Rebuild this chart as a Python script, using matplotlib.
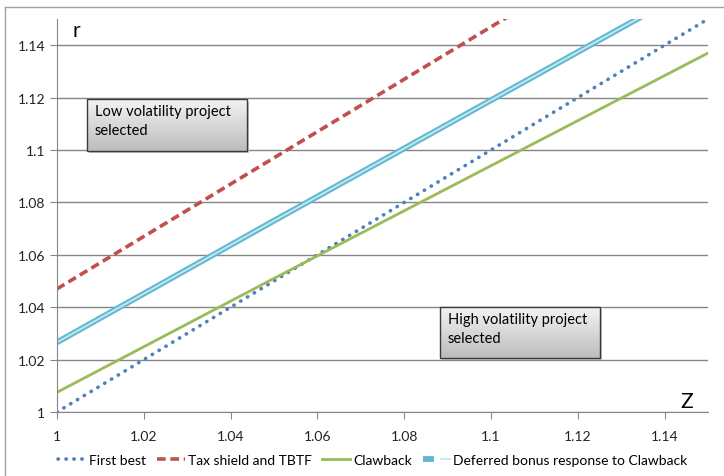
import matplotlib
matplotlib.use("Agg")
import numpy as np
import matplotlib.pyplot as plt
from matplotlib.lines import Line2D
from matplotlib.patches import Rectangle
from matplotlib.legend_handler import HandlerTuple

# values
z_values = [1.00, 1.05, 1.10, 1.15]
first_best = [1.00, 1.05, 1.10, 1.15]
tax_shield = [1.047, 1.097, 1.147, 1.197]
clawback = [1.0075, 1.051, 1.094, 1.137]
deferred = [1.0266, 1.073, 1.119, 1.165]

ticks = [1, 1.02, 1.04, 1.06, 1.08, 1.1, 1.12, 1.14]
tick_labels = ["1", "1.02", "1.04", "1.06", "1.08", "1.1", "1.12", "1.14"]

plt.rcParams['font.family'] = ['Lato', 'DejaVu Sans']

fig = plt.figure(figsize=(7.24, 4.77), dpi=100)
ax = fig.add_axes([57 / 724, 64 / 477, (708 - 57) / 724, (413 - 20) / 477])

grey = '#868686'
ax.set_xlim(1, 1.15)
ax.set_ylim(1, 1.15)
ax.set_xticks(ticks)
ax.set_xticklabels(tick_labels)
ax.set_yticks(ticks)
ax.set_yticklabels(tick_labels)
ax.yaxis.grid(True, color=grey, lw=1)
ax.set_axisbelow(True)
for s in ['top', 'right']:
    ax.spines[s].set_visible(False)
for s in ['left', 'bottom']:
    ax.spines[s].set_color(grey)
ax.tick_params(colors=grey, labelcolor='#222222', labelsize=10, length=5)
ax.tick_params(axis='x', pad=8)

dot_style = dict(color='#4F81BD', lw=2.6, linestyle=(0, (0.1, 2.1)),
                 dash_capstyle='round')
dash_style = dict(color='#C0504D', lw=2.6, linestyle=(0, (2.4, 1.3)))
green_style = dict(color='#9BBB59', lw=2.0)
outer_style = dict(color='#62B8D0', lw=4.2, solid_capstyle='butt')
inner_style = dict(color='#C6E9F2', lw=1.3, solid_capstyle='butt')

ax.plot(z_values, first_best, **dot_style)
ax.plot(z_values, tax_shield, **dash_style)
ax.plot(z_values, clawback, **green_style)
ax.plot(z_values, deferred, **outer_style)
ax.plot(z_values, deferred, **inner_style)

ax.text(1.0035, 1.1495, 'r', fontsize=15, va='top')
ax.text(1.1465, 1.0005, 'Z', fontsize=15, ha='right', va='bottom')

# grey gradient text boxes with a soft shadow (light top, darker bottom)
grad = np.linspace(0.74, 0.95, 50).reshape(-1, 1)
for (x0, x1, y0, y1), label in [((1.0069, 1.0437, 1.0995, 1.1193),
                                 'Low volatility project\nselected'),
                                ((1.0883, 1.1251, 1.0206, 1.0400),
                                 'High volatility project\nselected')]:
    ax.add_patch(Rectangle((x0 + 0.0005, y0 - 0.0008), x1 - x0, y1 - y0,
                           facecolor='#c4c4c4', edgecolor='none', zorder=4))
    ax.imshow(grad, extent=(x0, x1, y0, y1), cmap='gray', vmin=0, vmax=1,
              origin='lower', aspect='auto', zorder=5, interpolation='bicubic')
    ax.add_patch(Rectangle((x0, y0), x1 - x0, y1 - y0, facecolor='none',
                           edgecolor='#3a3a3a', lw=1.0, zorder=6))
    ax.text(x0 + 0.0018, y1 - 0.0018, label, fontsize=10.5, va='top',
            ha='left', linespacing=1.45, zorder=7)
ax.set_xlim(1, 1.15)
ax.set_ylim(1, 1.15)

fig.legend([Line2D([], [], **dot_style), Line2D([], [], **dash_style),
            Line2D([], [], **green_style),
            (Line2D([], [], **outer_style), Line2D([], [], **inner_style))],
           ['First best', 'Tax shield and TBTF', 'Clawback',
            'Deferred bonus response to Clawback'],
           handler_map={tuple: HandlerTuple(ndivide=None)},
           loc='center', bbox_to_anchor=(373 / 724, 1 - 461 / 477), ncol=4,
           frameon=False, fontsize=10, handlelength=2.0, handletextpad=0.2,
           columnspacing=0.8)

# chart area border (top and left visible)
fig.add_artist(Line2D([5 / 724, 1.0], [1 - 8 / 477, 1 - 8 / 477],
                      transform=fig.transFigure, color='#a0a0a0', lw=1))
fig.add_artist(Line2D([5 / 724, 5 / 724], [0, 1 - 8 / 477],
                      transform=fig.transFigure, color='#a0a0a0', lw=1))

fig.savefig('out.png', dpi=100)
